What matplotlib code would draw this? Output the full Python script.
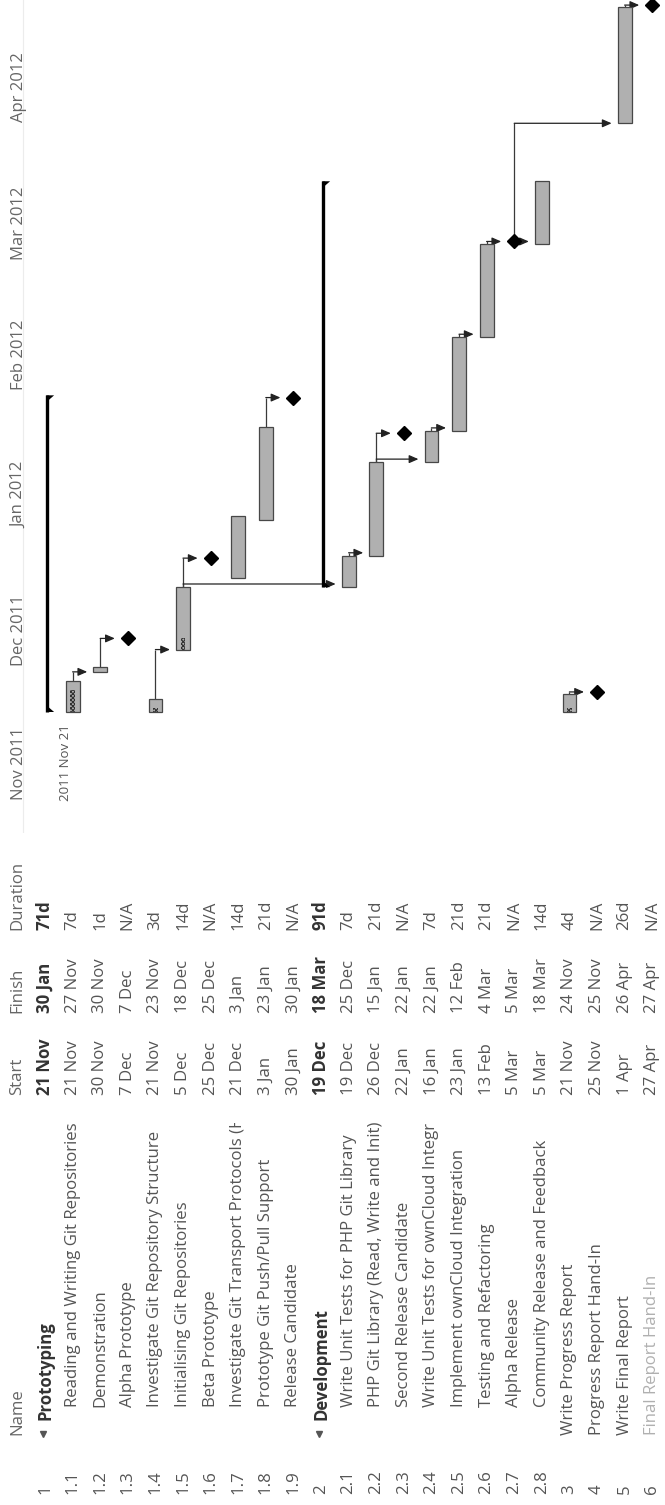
import datetime as dt
import matplotlib
matplotlib.use('Agg')
import matplotlib.pyplot as plt
import matplotlib.dates as mdates
from matplotlib.transforms import Bbox

# ---- data --------------------------------------------------------------
ids = ["1", "1.1", "1.2", "1.3", "1.4", "1.5", "1.6", "1.7", "1.8", "1.9",
       "2", "2.1", "2.2", "2.3", "2.4", "2.5", "2.6", "2.7", "2.8",
       "3", "4", "5", "6"]
names = [
    "Prototyping",
    "Reading and Writing Git Repositories",
    "Demonstration",
    "Alpha Prototype",
    "Investigate Git Repository Structure",
    "Initialising Git Repositories",
    "Beta Prototype",
    "Investigate Git Transport Protocols (H",
    "Prototype Git Push/Pull Support",
    "Release Candidate",
    "Development",
    "Write Unit Tests for PHP Git Library",
    "PHP Git Library (Read, Write and Init)",
    "Second Release Candidate",
    "Write Unit Tests for ownCloud Integr",
    "Implement ownCloud Integration",
    "Testing and Refactoring",
    "Alpha Release",
    "Community Release and Feedback",
    "Write Progress Report",
    "Progress Report Hand-In",
    "Write Final Report",
    "Final Report Hand-In",
]
# name whose last glyph is cut by the column edge: text before the cut, px kept
cut_names = {"1.7": ("Investigate Git Transport Protocols (", 5)}
kinds = ["summary", "task", "task", "milestone", "task", "task", "milestone",
         "task", "task", "milestone",
         "summary", "task", "task", "milestone", "task", "task", "task",
         "milestone", "task",
         "task", "milestone", "task", "milestone"]
levels = [0, 1, 1, 1, 1, 1, 1, 1, 1, 1,
          0, 1, 1, 1, 1, 1, 1, 1, 1,
          0, 0, 0, 0]
starts = ["2011-11-21", "2011-11-21", "2011-11-30", "2011-12-07", "2011-11-21",
          "2011-12-05", "2011-12-25", "2011-12-21", "2012-01-03", "2012-01-30",
          "2011-12-19", "2011-12-19", "2011-12-26", "2012-01-22", "2012-01-16",
          "2012-01-23", "2012-02-13", "2012-03-05", "2012-03-05",
          "2011-11-21", "2011-11-25", "2012-04-01", "2012-04-27"]
finishes = ["2012-01-30", "2011-11-27", "2011-11-30", "2011-12-07", "2011-11-23",
            "2011-12-18", "2011-12-25", "2012-01-03", "2012-01-23", "2012-01-30",
            "2012-03-18", "2011-12-25", "2012-01-15", "2012-01-22", "2012-01-22",
            "2012-02-12", "2012-03-04", "2012-03-05", "2012-03-18",
            "2011-11-24", "2011-11-25", "2012-04-26", "2012-04-27"]
durations = ["71d", "7d", "1d", "N/A", "3d", "14d", "N/A", "14d", "21d", "N/A",
             "91d", "7d", "21d", "N/A", "7d", "21d", "21d", "N/A", "14d",
             "4d", "N/A", "26d", "N/A"]
# completed fraction drawn as the hatched strip inside a bar
progress = {"1.1": 0.7, "1.4": 0.3, "1.5": 0.18, "3": 0.25}
deps = [("1.1", "1.2"), ("1.2", "1.3"), ("1.4", "1.5"), ("1.5", "1.6"),
        ("1.5", "2.1"), ("1.8", "1.9"), ("2.1", "2.2"), ("2.2", "2.3"),
        ("2.2", "2.4"), ("2.4", "2.5"), ("2.5", "2.6"), ("2.6", "2.7"),
        ("2.7", "2.8"), ("2.7", "5"), ("3", "4"), ("5", "6")]
months = ["2011-11-01", "2011-12-01", "2012-01-01", "2012-02-01",
          "2012-03-01", "2012-04-01"]
week_label = "2011 Nov 21"

# ---- layout constants (pixels of the 665 x 1505 picture) ----------------
W, H = 665, 1505
ROW0, ROW_DX = 45.0, 27.6
CHART_H = 833            # the timeline occupies the top 833 px
PX_DAY = 4.46
ANCHOR_PX = 712          # pixel row of 21 Nov 2011

TEXT = "#555555"
FONT = "Open Sans"
FS = 12.1


def to_date(s):
    return dt.datetime.strptime(s, "%Y-%m-%d")


def day_label(d):
    return f"{d.day} {d:%b}"


start_num = [mdates.date2num(to_date(s)) for s in starts]
end_num = [mdates.date2num(to_date(s)) + 1 for s in finishes]
pos = {rid: i for i, rid in enumerate(ids)}

fig = plt.figure(figsize=(W / 100, H / 100), dpi=100)
plt.rcParams['font.family'] = [FONT, 'DejaVu Sans']
plt.rcParams['hatch.linewidth'] = 0.8

xlim = (-ROW0 / ROW_DX, (W - ROW0) / ROW_DX)

# ---- timeline --------------------------------------------------------------
ax = fig.add_axes([0, 1 - CHART_H / H, 1, CHART_H / H])
t0 = mdates.date2num(to_date("2011-11-21"))
ax.set_xlim(*xlim)
ax.set_ylim(t0 - (CHART_H - ANCHOR_PX) / PX_DAY, t0 + ANCHOR_PX / PX_DAY)
ax.set_axis_off()

ax.plot([(23 - ROW0) / ROW_DX] * 2, ax.get_ylim(), color="#ececec", lw=0.8)

for m in months:
    md = to_date(m)
    ax.text(-0.93, mdates.date2num(md) + 0.3, f"{md:%b %Y}", rotation=90,
            ha="center", va="bottom", fontsize=12, color="#666666")
ax.text(0.75, mdates.date2num(to_date(months[0])), week_label, rotation=90,
        ha="center", va="bottom", fontsize=9.5, color="#555555")


def mid(i):
    return start_num[i] + 0.5


# dependency arrows
for a, b in deps:
    i, j = pos[a], pos[b]
    if kinds[i] == "milestone":
        p_end = mid(i)
    else:
        p_end = end_num[i]
    if kinds[j] == "milestone":
        yh = mid(j)
    elif kinds[i] == "milestone":
        yh = max(start_num[j], p_end)
    else:
        yh = max(start_num[j], p_end + 0.7)
    ax.plot([i, i], [p_end, yh], color="#3a3a3a", lw=0.9, zorder=1,
            solid_capstyle="butt")
    ax.annotate("", xy=(j - 0.47, yh), xytext=(i, yh),
                arrowprops=dict(arrowstyle="-|>,head_length=0.55,head_width=0.24",
                                color="#222222", lw=0.9, shrinkA=0, shrinkB=0,
                                mutation_scale=10),
                zorder=1)

# tasks
task_idx = [i for i, k in enumerate(kinds) if k == "task"]
ax.bar(task_idx, [end_num[i] - start_num[i] for i in task_idx],
       bottom=[start_num[i] for i in task_idx], width=0.5,
       color="#b0b0b0", edgecolor="#474747", linewidth=0.9, zorder=2)
for rid, frac in progress.items():
    i = pos[rid]
    ax.bar(i, (end_num[i] - start_num[i]) * frac, bottom=start_num[i],
           width=0.16, color="none", edgecolor="#303030", linewidth=0,
           hatch="xxxxxxxx", zorder=3)

# milestones
ms_idx = [i for i, k in enumerate(kinds) if k == "milestone"]
ax.plot(ms_idx, [mid(i) for i in ms_idx], linestyle="none", marker="D",
        markersize=6.8, color="black", zorder=4)

# summary brackets
for i, k in enumerate(kinds):
    if k != "summary":
        continue
    xl = i + 0.09
    s, e = start_num[i], end_num[i]
    ax.plot([xl, xl], [s, e], color="black", lw=2.4, zorder=3,
            solid_capstyle="butt")
    ax.fill([xl - 0.04, xl + 0.24, xl - 0.04], [s, s, s + 1.5],
            color="black", lw=0, zorder=3)
    ax.fill([xl - 0.04, xl + 0.24, xl - 0.04], [e, e, e - 1.5],
            color="black", lw=0, zorder=3)

# ---- task table ----------------------------------------------------------
tax = fig.add_axes([0, 0, 1, (H - CHART_H) / H])
tax.set_xlim(*xlim)
tax.set_ylim(0, H - CHART_H)
tax.set_axis_off()
renderer = fig.canvas.get_renderer()

Y_NUM, Y_NAME, Y_CHILD, Y_SUM = 11, 70, 98, 85
Y_START, Y_FINISH, Y_DUR = 410, 492, 575

hx = -1.0
for label, y in [("Name", Y_NAME), ("Start", Y_START),
                 ("Finish", Y_FINISH), ("Duration", Y_DUR)]:
    tax.text(hx, y, label, rotation=90, ha="center", va="bottom",
             fontsize=FS, color="#666666")

for i, rid in enumerate(ids):
    summary = kinds[i] == "summary"
    weight = "bold" if summary else "normal"
    col = "#333333" if summary else TEXT
    tax.text(i, Y_NUM, rid, rotation=90, ha="center", va="bottom",
             fontsize=FS, color=TEXT)
    if summary:
        tax.plot(i - 0.06, 71, marker="v", markersize=5, color="#555555")
        y_name = Y_SUM
    elif levels[i] == 0:
        y_name = Y_NAME
    else:
        y_name = Y_CHILD
    name_col = "#b0b0b0" if rid == "6" else col
    style = dict(rotation=90, ha="center", va="bottom", fontsize=FS,
                 color=name_col, fontweight=weight)
    if rid in cut_names:
        before, keep = cut_names[rid]
        probe = tax.text(i, y_name, before, **style)
        top = probe.get_window_extent(renderer).y1 + keep
        probe.remove()
        t = tax.text(i, y_name, names[i], clip_on=True, **style)
        t.set_clip_box(Bbox([[0, 0], [W, top]]))
    else:
        tax.text(i, y_name, names[i], **style)
    tax.text(i, Y_START, day_label(to_date(starts[i])), rotation=90,
             ha="center", va="bottom", fontsize=FS, color=col, fontweight=weight)
    tax.text(i, Y_FINISH, day_label(to_date(finishes[i])), rotation=90,
             ha="center", va="bottom", fontsize=FS, color=col, fontweight=weight)
    tax.text(i, Y_DUR, durations[i], rotation=90, ha="center", va="bottom",
             fontsize=FS, color=col, fontweight=weight)

fig.savefig("out.png", dpi=100)
